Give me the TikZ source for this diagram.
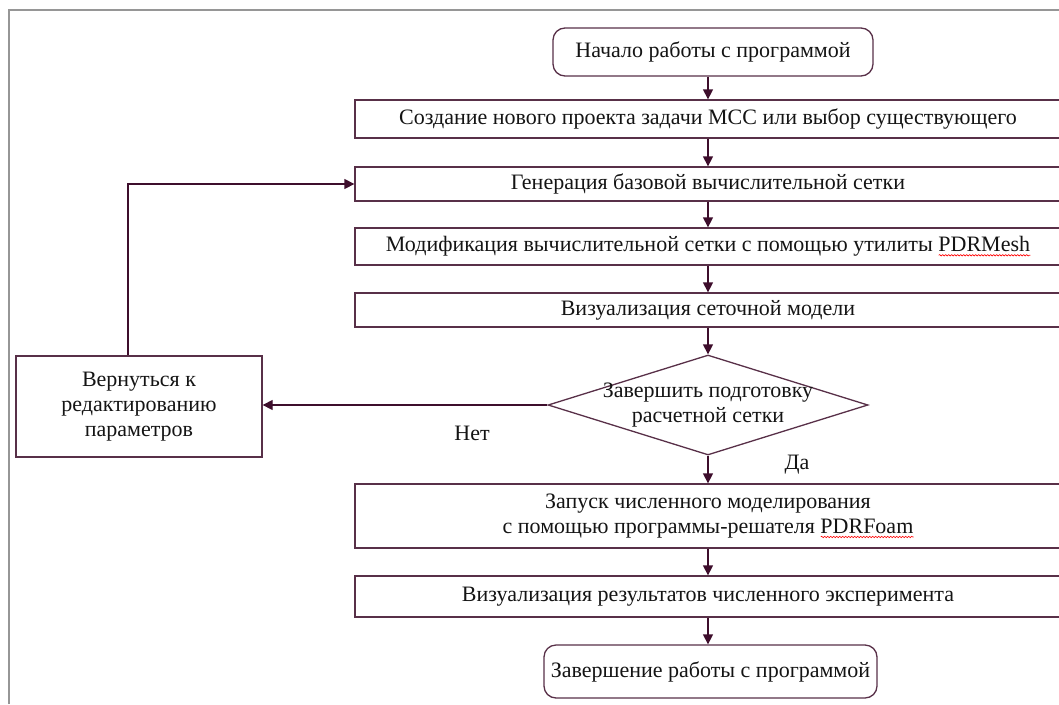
\documentclass[tikz,border=0pt]{standalone}
\usepackage{fontspec}
\setmainfont{Liberation Serif}
\usetikzlibrary{shapes.geometric,arrows.meta,decorations.pathmorphing}
\definecolor{edgecol}{RGB}{88,48,72}
\definecolor{arrcol}{RGB}{62,14,44}
\definecolor{txtcol}{RGB}{20,20,20}
\definecolor{framecol}{RGB}{150,150,150}
\newlength\wvlen
\newcommand\wavyword[1]{\settowidth\wvlen{#1}\leavevmode\rlap{\tikz[baseline=0pt]\draw[red,line width=0.6pt,decorate,decoration={snake,amplitude=0.7pt,segment length=3pt}] (0pt,-3.5pt) -- (\wvlen,-3.5pt);}#1}
\tikzset{
  base/.style={draw=edgecol,line width=1.3pt,text=txtcol,font=\fontsize{22}{25}\selectfont,inner sep=0pt,align=center},
  procbox/.style={base,rectangle,minimum width=706pt},
  termbox/.style={base,rectangle,rounded corners=12pt},
  arr/.style={draw=arrcol,line width=1.3pt,-{Triangle[length=10pt,width=10pt]}},
  lbl/.style={text=txtcol,font=\fontsize{22}{25}\selectfont,inner sep=0pt}
}
\begin{document}
\begin{tikzpicture}[x=1pt,y=-1pt]
\useasboundingbox (0,0) rectangle (1059,704);
\clip (0,0) rectangle (1059,704);
\draw[framecol,line width=1.5pt] (9,704) -- (9,10) -- (1059,10);
\node[termbox,minimum width=320pt,minimum height=48pt] (start) at (713,52) {Начало работы с программой};
\node[procbox,minimum height=38pt] (b1) at (708,119) {Создание нового проекта задачи МСС или выбор существующего};
\node[procbox,minimum height=34pt] (b2) at (708,184) {Генерация базовой вычислительной сетки};
\node[procbox,minimum height=37pt] (b3) at (708,246.5) {Модификация вычислительной сетки с помощью утилиты \wavyword{PDRMesh}};
\node[procbox,minimum height=34pt] (b4) at (708,310) {Визуализация сеточной модели};
\node[base,diamond,minimum width=320pt,minimum height=100pt] (dec) at (708,405) {};
\node[lbl,align=center] (dectext) at (708,405) {Завершить подготовку\\расчетной сетки};
\node[procbox,minimum height=64pt] (b5) at (708,516) {Запуск численного моделирования\\с помощью программы-решателя \wavyword{PDRFoam}};
\node[procbox,minimum height=41pt] (b6) at (708,596.5) {Визуализация результатов численного эксперимента};
\node[termbox,minimum width=333pt,minimum height=53pt] (end) at (710.5,671.5) {Завершение работы с программой};
\node[base,rectangle,minimum width=246pt,minimum height=101pt] (back) at (139,406.5) {Вернуться к\\редактированию\\параметров};
\node[lbl] (no) at (472,433) {Нет};
\node[lbl] (yes) at (797,465) {Да};
\draw[arr] (start.south -| b1.north) -- (b1.north);
\draw[arr] (b1) -- (b2);
\draw[arr] (b2) -- (b3);
\draw[arr] (b3) -- (b4);
\draw[arr] (b4.south) -- (dec.north);
\draw[arr] (dec.south) -- (b5.north);
\draw[arr] (b5) -- (b6);
\draw[arr] (b6.south) -- (b6.south |- end.north);
\draw[arr] (dec.west) -- (dec.west -| back.east);
\draw[arr] ([xshift=-11pt]back.north) |- (b2.west);
\end{tikzpicture}
\end{document}
